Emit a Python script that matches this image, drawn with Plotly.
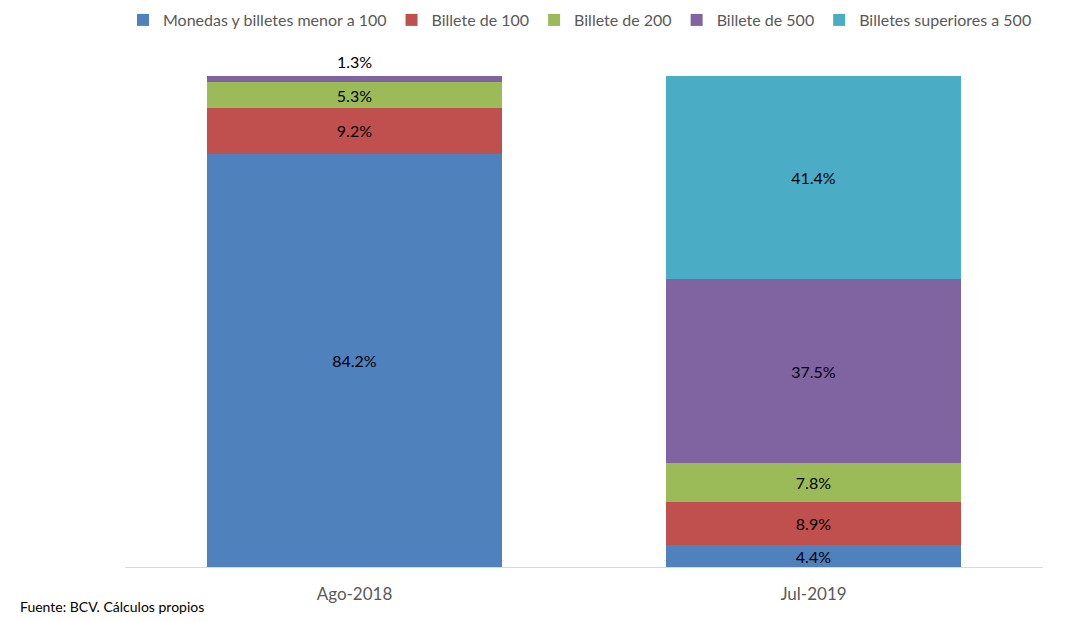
import plotly.graph_objects as go

periodos = ["Ago-2018", "Jul-2019"]
series = [
    "Monedas y billetes menor a 100",
    "Billete de 100",
    "Billete de 200",
    "Billete de 500",
    "Billetes superiores a 500",
]
monedas_menor_100 = [84.2, 4.4]
billete_100 = [9.2, 8.9]
billete_200 = [5.3, 7.8]
billete_500 = [1.3, 37.5]
superiores_500 = [0.0, 41.4]

valores = [monedas_menor_100, billete_100, billete_200, billete_500, superiores_500]
colores = ["#4F81BD", "#C0504D", "#9BBB59", "#8064A2", "#4BACC6"]

FONT = "Lato, Calibri, sans-serif"

fig = go.Figure()
for nombre, vals, color in zip(series, valores, colores):
    # small slices get their label placed above the stack instead of inside
    textos = [f"{v:.1f}%" if v >= 3 else "" for v in vals]
    fig.add_trace(go.Bar(
        x=periodos, y=vals, name=nombre,
        marker=dict(color=color, line=dict(width=0)),
        text=textos, textposition="inside", insidetextanchor="middle",
        textangle=0, textfont=dict(family=FONT, size=16, color="#000000"),
        hoverinfo="skip",
    ))

# labels for slices too thin to hold text, placed just above the stack
for i, periodo in enumerate(periodos):
    total = sum(v[i] for v in valores)
    for vals in valores:
        if 0 < vals[i] < 3:
            fig.add_annotation(
                x=periodo, y=total, text=f"{vals[i]:.1f}%", showarrow=False,
                yanchor="bottom", yshift=3,
                font=dict(family=FONT, size=16, color="#000000"),
            )

# footnote, positioned in pixel terms relative to the plot area
PLOT_L, PLOT_R, PLOT_T, PLOT_B = 125, 38, 76, 55
plot_w = 1081 - PLOT_L - PLOT_R
plot_h = 622 - PLOT_T - PLOT_B
fig.add_annotation(
    xref="paper", yref="paper",
    x=(18 - PLOT_L) / plot_w, y=(622 - PLOT_B - 606) / plot_h,
    text="Fuente: BCV. Cálculos propios",
    showarrow=False, xanchor="left", yanchor="middle",
    font=dict(family=FONT, size=14, color="#000000"),
)

fig.update_layout(
    width=1081, height=622,
    barmode="stack", bargap=0.357,
    paper_bgcolor="white", plot_bgcolor="white",
    margin=dict(l=PLOT_L, r=PLOT_R, t=PLOT_T, b=PLOT_B, autoexpand=False),
    uniformtext=dict(minsize=16, mode="show"),
    legend=dict(
        orientation="h", x=(580 - PLOT_L) / plot_w, xanchor="center",
        y=1 + (PLOT_T - 20) / plot_h, yanchor="middle",
        font=dict(family=FONT, size=16, color="#595959"),
        traceorder="normal", itemwidth=30,
    ),
    xaxis=dict(
        showline=True, linecolor="#D9D9D9", linewidth=1, ticks="",
        tickfont=dict(family=FONT, size=17, color="#595959"),
        ticklabelstandoff=12,
        range=[-0.5, 1.5],
    ),
    yaxis=dict(range=[0, 100], visible=False, showgrid=False, zeroline=False),
    showlegend=True,
)

fig.write_html("out.html")
